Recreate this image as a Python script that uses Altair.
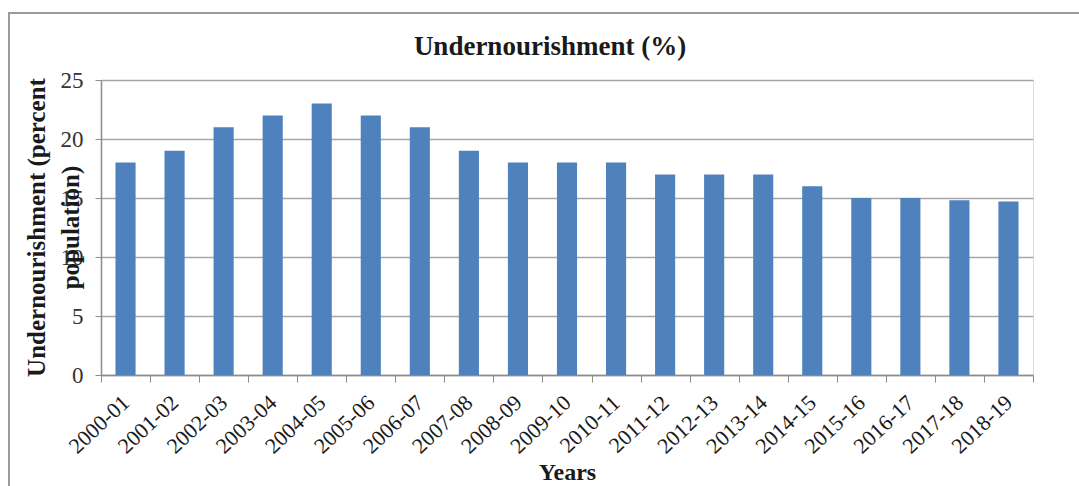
import altair as alt
import pandas as pd

years = ["2000-01", "2001-02", "2002-03", "2003-04", "2004-05", "2005-06",
         "2006-07", "2007-08", "2008-09", "2009-10", "2010-11", "2011-12",
         "2012-13", "2013-14", "2014-15", "2015-16", "2016-17", "2017-18",
         "2018-19"]
undernourishment = [18, 19, 21, 22, 23, 22, 21, 19, 18, 18, 18, 17, 17, 17,
                    16, 15, 15, 14.8, 14.7]
y_ticks = [0, 5, 10, 15, 20, 25]
chart_title = "Undernourishment (%)"

df = pd.DataFrame({"year": years, "value": undernourishment})

SERIF = "Liberation Serif"
GRID = "#a6a6a6"
AXIS = "#8c8c8c"
INK = "#1a1a1a"

bars = alt.Chart(df).mark_bar(color="#4f81bd", width={"band": 0.41}).encode(
    x=alt.X(
        "year:N",
        sort=years,
        scale=alt.Scale(paddingInner=0, paddingOuter=0),
        axis=alt.Axis(
            title="Years",
            titleFont=SERIF, titleFontSize=24, titleFontWeight="bold",
            titleColor=INK, titlePadding=3,
            labelFont=SERIF, labelFontSize=22, labelColor=INK,
            labelAngle=-43, labelAlign="right", labelBaseline="middle",
            labelPadding=17,
            tickBand="extent", tickSize=7, tickColor=AXIS,
            domainColor=AXIS, domainWidth=1.5, grid=False,
        ),
    ),
    y=alt.Y(
        "value:Q",
        scale=alt.Scale(domain=[0, 25], nice=False),
        axis=alt.Axis(
            values=y_ticks,
            title=["Undernourishment (percent", "population)"],
            titleFont=SERIF, titleFontSize=25, titleFontWeight="bold",
            titleColor=INK, titleLineHeight=34,
            titleAngle=-90, titleX=-65, titleY=147, titleAlign="center",
            titleBaseline="middle",
            labelFont=SERIF, labelFontSize=23, labelColor="#333333",
            labelPadding=12,
            tickSize=6, tickColor=AXIS,
            domainColor=AXIS, domainWidth=1.5,
            grid=True, gridColor=GRID, gridWidth=1.5,
        ),
    ),
)

# chart heading, centred a little left of the plot middle
heading = alt.Chart(alt.Data(values=[{"t": chart_title}])).mark_text(
    font=SERIF, fontSize=27, fontWeight="bold", color=INK,
    align="center", baseline="middle", clip=False,
).encode(text="t:N", x=alt.value(449), y=alt.value(-33))

# light grey frame around the whole figure
frame = alt.Chart(alt.Data(values=[{}])).mark_rect(
    fill=None, stroke="#9a9a9a", strokeWidth=2, clip=False
).encode(
    x=alt.value(-92), x2=alt.value(990),
    y=alt.value(-67), y2=alt.value(420),
)

chart = alt.layer(frame, bars, heading).properties(
    width=932,
    height=295,
    autosize="none",
    padding={"left": 101, "top": 80, "right": 46, "bottom": 111},
).configure_view(stroke=None).configure(background="white")

chart.save("out.html", embed_options={"renderer": "svg", "actions": False})
